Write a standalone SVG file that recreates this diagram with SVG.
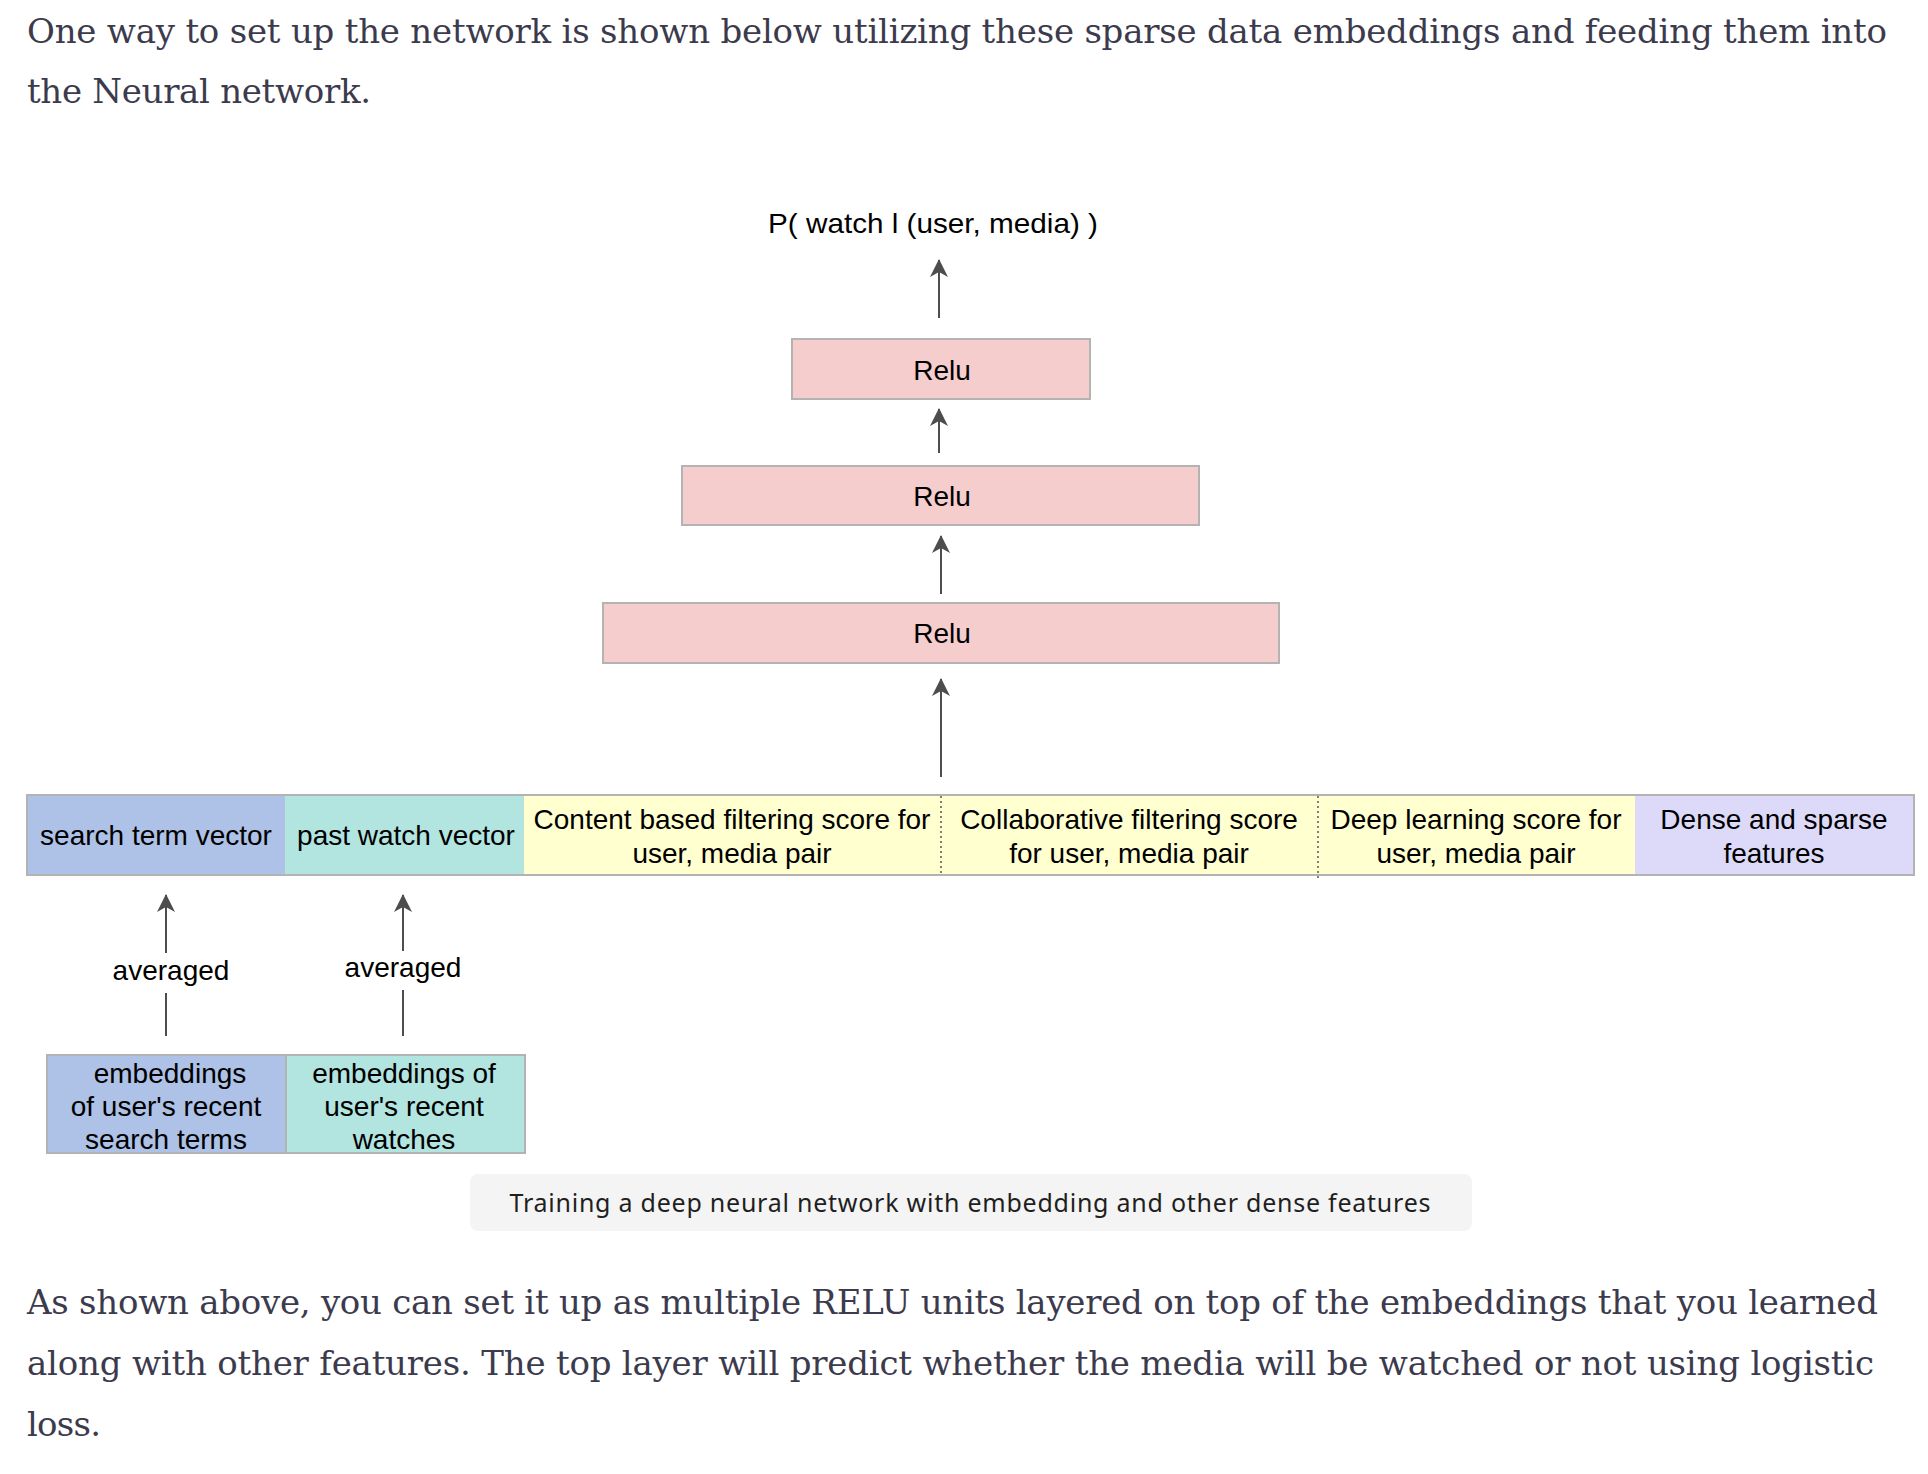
<svg xmlns="http://www.w3.org/2000/svg" width="1928" height="1474" viewBox="0 0 1928 1474">
<defs>
<style>
.body{font-family:"DejaVu Serif","Liberation Serif",serif;font-size:34px;fill:#3c3b4d}
.lbl{font-family:"Liberation Sans",Arial,sans-serif;font-size:28px;fill:#000;text-anchor:middle}
.relu{fill:#f5cdcc;stroke:#b3b3b3;stroke-width:2}
.bar{stroke:none}
.edge{stroke:#4d4d4d;stroke-width:2;fill:none}
.cap{font-family:"Noto Sans","Open Sans",sans-serif;font-size:25px;fill:#1f1f1f;text-anchor:middle}
</style>
<marker id="arr" viewBox="0 0 18 18" refX="17" refY="9" markerWidth="18" markerHeight="18" markerUnits="userSpaceOnUse" orient="auto">
<path d="M0,0 L18,9 L0,18 L5,9 Z" fill="#4d4d4d"/>
</marker>
</defs>
<rect width="1928" height="1474" fill="#fff"/>

<g id="intro">
<text class="body" x="27" y="43" textLength="1860" lengthAdjust="spacing">One way to set up the network is shown below utilizing these sparse data embeddings and feeding them into</text>
<text class="body" x="27" y="103" textLength="344" lengthAdjust="spacing">the Neural network.</text>
</g>

<g id="output-label">
<text class="lbl" x="933" y="233" font-size="32" textLength="330" lengthAdjust="spacingAndGlyphs">P( watch l (user, media) )</text>
</g>

<g id="relu-1">
<rect class="relu" x="792" y="339" width="298" height="60"/>
<text class="lbl" x="942" y="380">Relu</text>
</g>
<g id="relu-2">
<rect class="relu" x="682" y="466" width="517" height="59"/>
<text class="lbl" x="942" y="506">Relu</text>
</g>
<g id="relu-3">
<rect class="relu" x="603" y="603" width="676" height="60"/>
<text class="lbl" x="942" y="643">Relu</text>
</g>

<g id="feature-bar">
<rect class="bar" x="27" y="795" width="258" height="80" fill="#adc2e6"/>
<rect class="bar" x="285" y="795" width="239" height="80" fill="#b2e4e0"/>
<rect class="bar" x="524" y="795" width="1111" height="80" fill="#ffffd0"/>
<rect class="bar" x="1635" y="795" width="279" height="80" fill="#dcdaf8"/>
<rect x="27" y="795" width="1887" height="80" fill="none" stroke="#b3b3b3" stroke-width="2"/>
<line x1="941" y1="796" x2="941" y2="874" stroke="#555" stroke-width="1.5" stroke-dasharray="2,3"/>
<line x1="1318" y1="796" x2="1318" y2="878" stroke="#555" stroke-width="1.5" stroke-dasharray="2,3"/>
</g>
<g id="search-term-vector"><text class="lbl" x="156" y="845">search term vector</text></g>
<g id="past-watch-vector"><text class="lbl" x="406" y="845">past watch vector</text></g>
<g id="content-score"><text class="lbl" x="732" y="829">Content based filtering score for</text><text class="lbl" x="732" y="863">user, media pair</text></g>
<g id="collab-score"><text class="lbl" x="1129" y="829">Collaborative filtering score</text><text class="lbl" x="1129" y="863">for user, media pair</text></g>
<g id="deep-score"><text class="lbl" x="1476" y="829">Deep learning score for</text><text class="lbl" x="1476" y="863">user, media pair</text></g>
<g id="dense-sparse"><text class="lbl" x="1774" y="829">Dense and sparse</text><text class="lbl" x="1774" y="863">features</text></g>

<g id="emb-search">
<rect x="47" y="1055" width="239" height="98" fill="#adc2e6" stroke="#b3b3b3" stroke-width="2"/>
<text class="lbl" x="170" y="1083">embeddings</text>
<text class="lbl" x="166" y="1116">of user's recent</text>
<text class="lbl" x="166" y="1149">search terms</text>
</g>
<g id="emb-watch">
<rect x="286" y="1055" width="239" height="98" fill="#b2e4e0" stroke="#b3b3b3" stroke-width="2"/>
<text class="lbl" x="404" y="1083">embeddings of</text>
<text class="lbl" x="404" y="1116">user's recent</text>
<text class="lbl" x="404" y="1149">watches</text>
</g>

<g id="connectors">
<line class="edge" x1="939" y1="318" x2="939" y2="260" marker-end="url(#arr)"/>
<line class="edge" x1="939" y1="453" x2="939" y2="409" marker-end="url(#arr)"/>
<line class="edge" x1="941" y1="594" x2="941" y2="536" marker-end="url(#arr)"/>
<line class="edge" x1="941" y1="777" x2="941" y2="679" marker-end="url(#arr)"/>
<line class="edge" x1="166" y1="1036" x2="166" y2="993"/>
<line class="edge" x1="166" y1="953" x2="166" y2="895" marker-end="url(#arr)"/>
<text class="lbl" x="171" y="980">averaged</text>
<line class="edge" x1="403" y1="1036" x2="403" y2="990"/>
<line class="edge" x1="403" y1="951" x2="403" y2="895" marker-end="url(#arr)"/>
<text class="lbl" x="403" y="977">averaged</text>
</g>

<g id="caption">
<rect x="470" y="1174" width="1002" height="57" rx="8" fill="#f4f4f4"/>
<text class="cap" x="970" y="1212" textLength="921" lengthAdjust="spacing">Training a deep neural network with embedding and other dense features</text>
</g>

<g id="outro">
<text class="body" x="27" y="1314" textLength="1851" lengthAdjust="spacing">As shown above, you can set it up as multiple RELU units layered on top of the embeddings that you learned</text>
<text class="body" x="27" y="1375" textLength="1847" lengthAdjust="spacing">along with other features. The top layer will predict whether the media will be watched or not using logistic</text>
<text class="body" x="27" y="1436" textLength="74" lengthAdjust="spacing">loss.</text>
</g>
</svg>
